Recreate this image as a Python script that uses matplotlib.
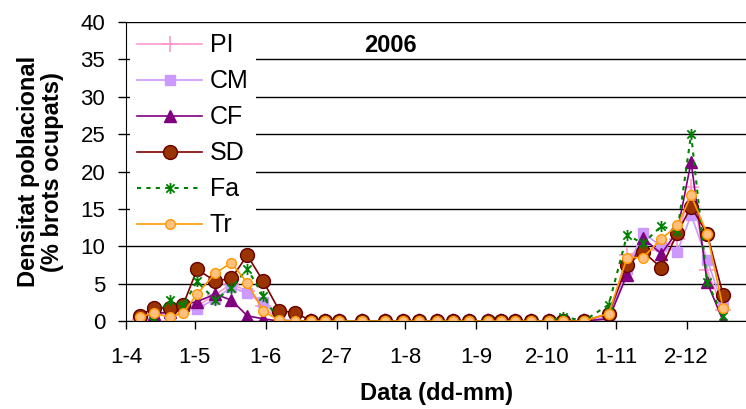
import pandas as pd
import matplotlib
matplotlib.use("Agg")
import matplotlib.pyplot as plt
from matplotlib.path import Path

plt.rcParams['font.family'] = ['Liberation Sans', 'DejaVu Sans']

# sampling dates (2006)
dates = ["2006-04-07", "2006-04-13", "2006-04-20", "2006-04-26", "2006-05-02",
         "2006-05-10", "2006-05-17", "2006-05-24", "2006-05-31", "2006-06-07",
         "2006-06-14", "2006-06-21", "2006-06-27", "2006-07-03", "2006-07-13",
         "2006-07-23", "2006-07-31", "2006-08-07", "2006-08-15", "2006-08-22",
         "2006-08-29", "2006-09-06", "2006-09-12", "2006-09-18", "2006-09-25",
         "2006-10-03", "2006-10-09", "2006-10-18", "2006-10-29", "2006-11-06",
         "2006-11-13", "2006-11-21", "2006-11-28", "2006-12-04", "2006-12-11",
         "2006-12-18"]

zeros_mid = [0] * 17

PI = [0.3, 1.2, 1.0, 1.5, 2.0, 3.5, 5.0, 4.0, 2.0, 0.0, 0.0] + zeros_mid + \
     [0.5, 8.8, 9.5, 9.5, 11.0, 18.0, 6.8, 1.5]
CM = [0.5, 1.0, 1.0, 1.8, 1.6, 3.0, 4.5, 3.8, 2.6, 0.3, 0.0] + zeros_mid + \
     [0.5, 7.0, 11.8, 10.0, 9.3, 14.2, 8.2, 2.0]
CF = [0.5, 1.0, 1.2, 2.2, 2.6, 3.6, 2.8, 0.7, 0.3, 0.0, 0.0] + zeros_mid + \
     [0.3, 6.2, 11.1, 9.0, 12.0, 21.3, 5.2, 0.0]
SD = [0.7, 1.8, 1.7, 2.2, 6.9, 5.35, 5.7, 8.8, 5.3, 1.4, 1.1] + zeros_mid + \
     [1.0, 7.5, 9.3, 7.1, 11.8, 15.3, 11.7, 3.5]
Fa = [0.0, 0.4, 2.8, 2.1, 5.3, 2.8, 4.4, 7.0, 3.3, 0.0, 0.0] + [0] * 15 + [0.6, 0] + \
     [2.2, 11.5, 10.4, 12.7, 12.0, 25.0, 5.2, 0.7]
Tr = [0.5, 1.1, 0.5, 1.1, 3.6, 6.4, 7.8, 5.1, 1.3, 0.1, 0.0] + zeros_mid + \
     [1.0, 8.5, 8.5, 11.0, 12.8, 16.8, 11.7, 1.7]

tick_dates = ["2006-04-01", "2006-05-01", "2006-06-01", "2006-07-02", "2006-08-01",
              "2006-09-01", "2006-10-02", "2006-11-01", "2006-12-02"]
tick_labels = ["1-4", "1-5", "1-6", "2-7", "1-8", "1-9", "2-10", "1-11", "2-12"]

x = pd.to_datetime(dates)

# excel-like star marker: vertical bar + X
star = Path([(0, -1), (0, 1), (-0.75, -0.75), (0.75, 0.75), (-0.75, 0.75), (0.75, -0.75)],
            [Path.MOVETO, Path.LINETO, Path.MOVETO, Path.LINETO, Path.MOVETO, Path.LINETO])

fig = plt.figure(figsize=(7.46, 4.09), dpi=100)
ax = fig.add_axes([0.169, 0.215, 0.831, 0.731])

ax.plot(x, PI, color='#FF99CC', lw=1.2, marker='+', ms=12, mew=1.2, label='PI')
ax.plot(x, CM, color='#CC99FF', lw=1.2, marker='s', ms=7.5, label='CM')
ax.plot(x, CF, color='#800080', lw=1.2, marker='^', ms=9, label='CF')
ax.plot(x, SD, color='#800000', lw=1.2, marker='o', ms=10, mfc='#993300', mec='#660000', label='SD')
ax.plot(x, Fa, color='#008000', lw=1.5, ls=(0, (2, 2.5)), marker=star, ms=8, mew=1.3, label='Fa')
ax.plot(x, Tr, color='#FF9900', lw=1.2, marker='o', ms=7, mfc='#FFC080', mec='#FF9900', label='Tr')

ax.set_ylim(0, 40)
ax.set_yticks(range(0, 41, 5))
ax.set_xlim(pd.Timestamp("2006-04-01"), pd.Timestamp("2006-12-28"))
ax.set_xticks(pd.to_datetime(tick_dates))
ax.set_xticklabels(tick_labels)
ax.grid(axis='y', color='black', lw=1)
ax.set_axisbelow(True)
ax.spines['right'].set_visible(False)
ax.spines['top'].set_visible(False)
ax.tick_params(labelsize=16, length=6, width=1)
ax.tick_params(axis='y', pad=9)
ax.tick_params(axis='x', pad=13)

ax.set_ylabel("Densitat poblacional\n(% brots ocupats)", fontsize=17, fontweight='bold',
              labelpad=12, linespacing=1.05)
ax.set_xlabel("Data (dd-mm)", fontsize=17, fontweight='bold', labelpad=10)
ax.text(0.427, 0.923, "2006", transform=ax.transAxes, fontsize=17, fontweight='bold',
        ha='center', va='center')

leg = ax.legend(loc='upper left', fontsize=18, frameon=True, edgecolor='none', framealpha=1,
                handlelength=2.6, labelspacing=0.48, borderaxespad=0.15, borderpad=0.3,
                fancybox=False, handletextpad=0.3)

fig.savefig("out.png", dpi=100)
